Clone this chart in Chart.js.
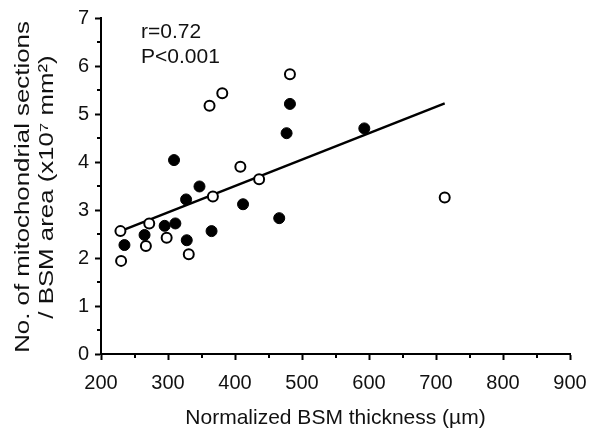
<!DOCTYPE html>
<html><head><meta charset="utf-8">
<script src="https://cdn.jsdelivr.net/npm/chart.js@4.4.1/dist/chart.umd.min.js"></script>
<style>html,body{margin:0;padding:0;background:#fff}#wrap{width:601px;height:434px}</style>
</head><body><div id="wrap"><canvas id="c" width="601" height="434"></canvas></div>
<script>
// Open circles
const openX = [230, 229, 267, 272, 298, 331, 367, 408, 436, 362, 381, 482, 713];
const openY = [1.94, 2.56, 2.25, 2.72, 2.42, 2.08, 3.28, 3.90, 3.64, 5.17, 5.43, 5.83, 3.26];
// Filled circles
const filledX = [235, 265, 295, 311, 309, 327, 328, 347, 365, 412, 466, 477, 482, 593];
const filledY = [2.27, 2.48, 2.67, 2.72, 4.04, 3.22, 2.37, 3.49, 2.56, 3.12, 2.83, 4.60, 5.21, 4.70];
// Regression line end points
const fitX = [229, 713];
const fitY = [2.56, 5.22];

const annotationLines = ["r=0.72", "P<0.001"];
const xTitle = "Normalized BSM thickness (\u00b5m)";
const yTitle = ["No. of mitochondrial sections", "/ BSM area (x10\u2077 mm\u00b2)"];
const xMin = 200, xMax = 900, xStep = 100;
const yMin = 0, yMax = 7, yStep = 1;

const FONT = '"Liberation Sans", Arial, sans-serif';
const TXT = '#111';
const pts = (xs, ys) => xs.map((x, i) => ({x: x, y: ys[i]}));

const decorations = {
  id: 'decorations',
  afterDraw(chart) {
    const ctx = chart.ctx, xs = chart.scales.x, ys = chart.scales.y;
    const a = chart.chartArea;
    ctx.save();
    ctx.strokeStyle = '#000';
    ctx.lineWidth = 2;
    for (let v = xMin + xStep / 2; v < xMax; v += xStep) {
      const p = Math.round(xs.getPixelForValue(v));
      ctx.beginPath(); ctx.moveTo(p, a.bottom); ctx.lineTo(p, a.bottom + 4); ctx.stroke();
    }
    for (let v = yMin + yStep / 2; v < yMax; v += yStep) {
      const p = Math.round(ys.getPixelForValue(v));
      ctx.beginPath(); ctx.moveTo(a.left, p); ctx.lineTo(a.left - 4, p); ctx.stroke();
    }
    ctx.fillStyle = TXT;
    ctx.font = '21px ' + FONT;
    ctx.textBaseline = 'alphabetic';
    ctx.textAlign = 'left';
    annotationLines.forEach((t, i) => ctx.fillText(t, a.left + 40, 38 + i * 25));
    // y-axis title (two lines, rotated)
    const cy = (a.top + a.bottom) / 2 + 1;
    const stretch = 1.23;
    ctx.textAlign = 'center';
    ctx.textBaseline = 'middle';
    yTitle.forEach((t, i) => {
      ctx.save();
      ctx.translate(23 + i * 24, cy);
      ctx.rotate(-Math.PI / 2);
      ctx.scale(stretch, 1);
      ctx.fillText(t, 0, 0);
      ctx.restore();
    });
    ctx.restore();
  }
};

new Chart(document.getElementById('c'), {
  data: {
    datasets: [
      {type: 'line', data: pts(fitX, fitY), borderColor: '#000', borderWidth: 2.5,
       pointRadius: 0, fill: false, order: 3},
      {type: 'scatter', data: pts(filledX, filledY), backgroundColor: '#000', borderColor: '#000',
       pointRadius: 5.5, borderWidth: 1, order: 2},
      {type: 'scatter', data: pts(openX, openY), backgroundColor: '#fff', borderColor: '#000',
       pointRadius: 5, borderWidth: 2, order: 1}
    ]
  },
  options: {
    responsive: false,
    animation: false,
    devicePixelRatio: 1,
    layout: {padding: {top: 17, right: 31, left: 0, bottom: 0}},
    plugins: {legend: {display: false}, tooltip: {enabled: false}},
    scales: {
      x: {
        type: 'linear', min: xMin, max: xMax,
        afterFit(s) { s.height = 80; },
        ticks: {stepSize: xStep, color: TXT, font: {size: 20, family: FONT}, padding: 11, maxRotation: 0},
        grid: {display: true, drawOnChartArea: false, drawTicks: true, tickLength: 6, tickWidth: 2, tickColor: '#000'},
        border: {display: true, color: '#000', width: 2},
        title: {display: true, text: xTitle, color: TXT, font: {size: 21, family: FONT}, padding: {top: 8, bottom: 3}}
      },
      y: {
        type: 'linear', min: yMin, max: yMax,
        afterFit(s) { s.width = 101; },
        ticks: {stepSize: yStep, color: TXT, font: {size: 20, family: FONT}, padding: 6},
        grid: {display: true, drawOnChartArea: false, drawTicks: true, tickLength: 6, tickWidth: 2, tickColor: '#000'},
        border: {display: true, color: '#000', width: 2},
        title: {display: false}
      }
    }
  },
  plugins: [decorations]
});
</script></body></html>
